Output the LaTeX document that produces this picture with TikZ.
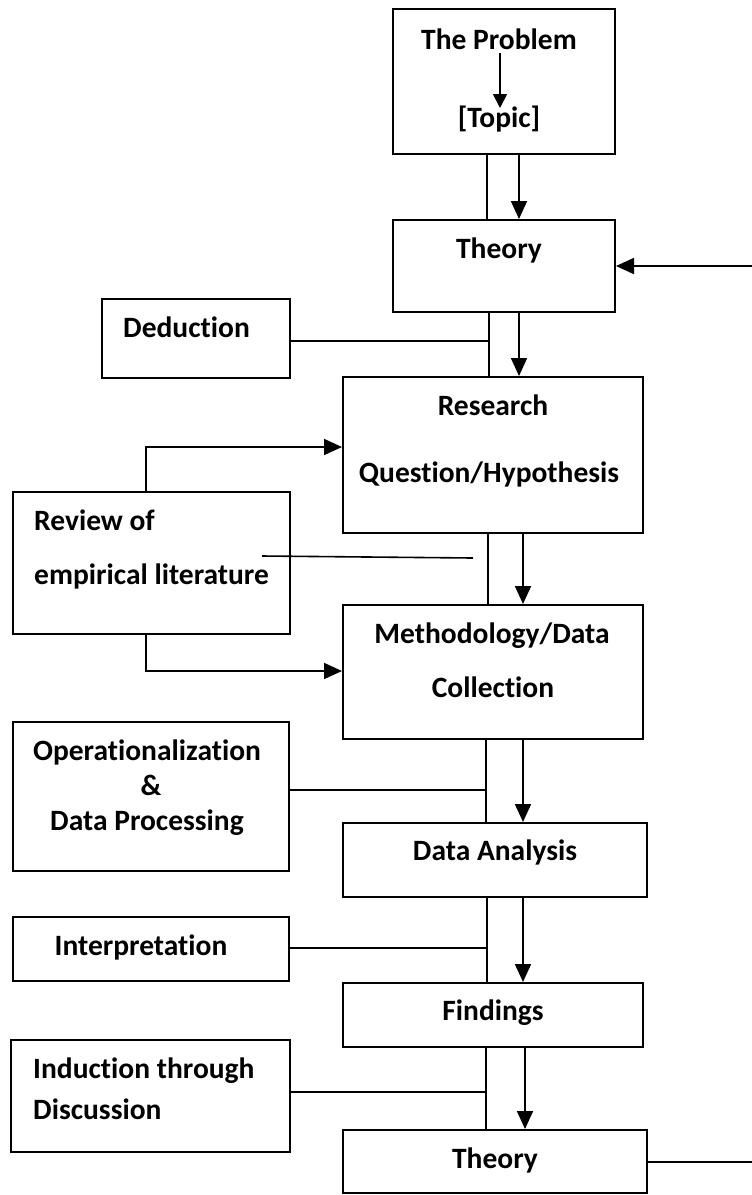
\documentclass[tikz,border=0pt]{standalone}
\usepackage{fontspec}
\setmainfont[Ligatures={NoCommon}]{Carlito}
\usetikzlibrary{arrows.meta}
\tikzset{
  box/.style={draw, line width=2pt, inner sep=0pt, fill=white},
  txt/.style={inner sep=0pt, font=\fontsize{29.5}{34}\selectfont\bfseries},
  conn/.style={line width=1.6pt},
  arr/.style={line width=1.8pt, -{Triangle[length=18pt,width=16pt]}},
  sarr/.style={line width=1.8pt, -{Triangle[length=14pt,width=14pt]}}
}
\newcommand{\mybox}[5]{\node[box, minimum width={#4-#2}, minimum height={#5-#3}] (#1) at ({(#2+#4)/2},{(#3+#5)/2}) {};}
\begin{document}
\begin{tikzpicture}[x=1pt,y=-1pt]
\useasboundingbox (0,0) rectangle (752,1195);
% boxes
\mybox{problem}{393}{9}{615}{154}
\mybox{theory}{393}{220}{615}{312}
\mybox{deduction}{102}{299}{290}{378}
\mybox{research}{343}{377}{643}{533}
\mybox{review}{13}{492}{290}{634}
\mybox{method}{343}{605}{643}{739}
\mybox{oper}{13}{722}{289}{871}
\mybox{analysis}{343}{823}{647}{897}
\mybox{interp}{13}{917}{289}{981}
\mybox{findings}{343}{983}{643}{1047}
\mybox{induction}{11}{1040}{290}{1152}
\mybox{theorytwo}{343}{1130}{647}{1193}
% texts
\node[txt, anchor=base] (tprob) at (499,49) {The Problem};
\node[txt, anchor=base] (ttopic) at (499,127) {[Topic]};
\node[txt, anchor=base] at (499,258) {Theory};
\node[txt, anchor=base west] at (123,337) {Deduction};
\node[txt, anchor=base] at (493,415) {Research};
\node[txt, anchor=base] at (489,482) {Question/Hypothesis};
\node[txt, anchor=base west] at (34,530) {Review of};
\node[txt, anchor=base west] at (34,584) {empirical literature};
\node[txt, anchor=base] at (492,643) {Methodology/Data};
\node[txt, anchor=base] at (493,697) {Collection};
\node[txt, anchor=base] at (147,760) {Operationalization};
\node[txt, anchor=base] at (151,795) {\&};
\node[txt, anchor=base] at (147,830) {Data Processing};
\node[txt, anchor=base] at (495,860) {Data Analysis};
\node[txt, anchor=base] at (141,955) {Interpretation};
\node[txt, anchor=base] at (493,1020) {Findings};
\node[txt, anchor=base west] at (33,1078) {Induction through};
\node[txt, anchor=base west] at (33,1119) {Discussion};
\node[txt, anchor=base] at (495,1168) {Theory};
% inner arrow
\draw[sarr] (tprob.south -| 500,0) ++(0,4) -- (500,108);
% spine: problem -> theory
\draw[conn] (problem.south -| 487,0) -- (theory.north -| 487,0);
\draw[arr] (problem.south -| 519,0) -- (theory.north -| 519,0);
% theory -> research
\draw[conn] (theory.south -| 489,0) -- (research.north -| 489,0);
\draw[arr] (theory.south -| 519,0) -- (research.north -| 519,0);
\draw[conn] (deduction.east |- 0,341) -- (489,341);
% research -> method
\draw[conn] (research.south -| 488,0) -- (method.north -| 488,0);
\draw[arr] (research.south -| 523,0) -- (method.north -| 523,0);
% review
\draw[arr] (review.north -| 146,0) |- (research.west |- 0,447);
\draw[arr] (review.south -| 146,0) |- (method.west |- 0,671);
\coordinate (strayA) at (262,556);
\coordinate (strayB) at (473,558);
\draw[conn] (strayA) -- (strayB);
% method -> analysis
\draw[conn] (method.south -| 486,0) -- (analysis.north -| 486,0);
\draw[arr] (method.south -| 523,0) -- (analysis.north -| 523,0);
\draw[conn] (oper.east |- 0,790) -- (486,790);
% analysis -> findings
\draw[conn] (analysis.south -| 487,0) -- (findings.north -| 487,0);
\draw[arr] (analysis.south -| 523,0) -- (findings.north -| 523,0);
\draw[conn] (interp.east |- 0,948) -- (487,948);
% findings -> theory2
\draw[conn] (findings.south -| 486,0) -- (theorytwo.north -| 486,0);
\draw[arr] (findings.south -| 525,0) -- (theorytwo.north -| 525,0);
\draw[conn] (induction.east |- 0,1092) -- (486,1092);
% feedback loop ends
\coordinate (loopin) at (752,266);
\coordinate (loopout) at (752,1162);
\draw[arr] (loopin) -- (theory.east |- loopin);
\draw[conn] (theorytwo.east |- loopout) -- (loopout);
\end{tikzpicture}
\end{document}
